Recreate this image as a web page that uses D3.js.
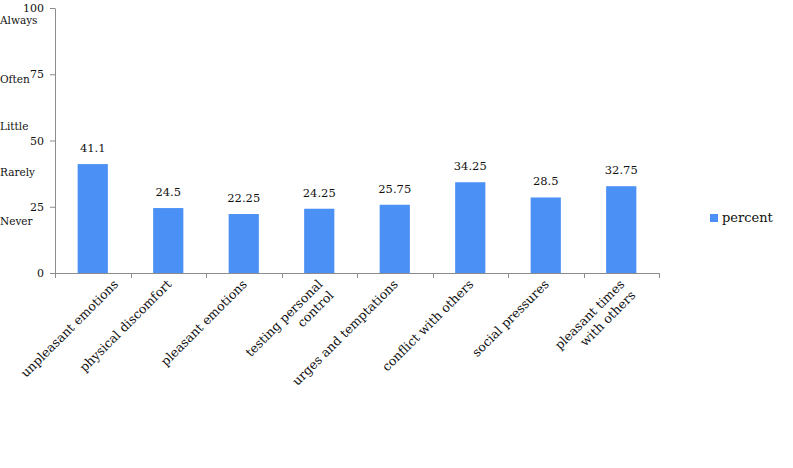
<!DOCTYPE html>
<html>
<head>
<meta charset="utf-8">
<script src="https://cdn.jsdelivr.net/npm/d3@7"></script>
<style>
  body { margin: 0; background: #fff; }
  text { font-family: "DejaVu Serif", serif; fill: #111; }
</style>
</head>
<body>
<div id="chart"></div>
<script>
// data
var categories = [
  "unpleasant emotions", "physical discomfort", "pleasant emotions",
  "testing personal|control", "urges and temptations", "conflict with others",
  "social pressures", "pleasant times|with others"
];
var percent = [41.1, 24.5, 22.25, 24.25, 25.75, 34.25, 28.5, 32.75];
var yTicks = [0, 25, 50, 75, 100];
var levelLabels = ["Always", "Often", "Little", "Rarely", "Never"];
var levelAt = [95.2, 73.2, 55.5, 37.9, 19.4];
var seriesName = "percent";

var W = 793, H = 468;
var x0 = 55, x1 = 659, yBottom = 273, yTop = 8;
var barColor = "#4a90f5", axisColor = "#8c8c8c";

var svg = d3.select("#chart").append("svg")
  .attr("width", W).attr("height", H);

var x = d3.scaleBand().domain(categories).range([x0, x1])
  .paddingInner(0.6).paddingOuter(0.3);
var xTicks = d3.scaleBand().domain(categories).range([x0, x1]).padding(0);
var y = d3.scaleLinear().domain([0, 100]).range([yBottom, yTop]);

// y axis
var yAxis = svg.append("g")
  .attr("transform", "translate(" + x0 + ",0)")
  .call(d3.axisLeft(y).tickValues(yTicks).tickSize(5).tickPadding(6).tickSizeOuter(0));
yAxis.select(".domain").attr("stroke", axisColor);
yAxis.selectAll(".tick line").attr("stroke", axisColor);
yAxis.selectAll(".tick text").attr("font-size", 11).attr("font-family", "DejaVu Serif").attr("fill", "#111");

// level labels at the far left
svg.append("g").selectAll("text")
  .data(levelLabels)
  .enter().append("text")
  .attr("x", 0)
  .attr("y", function (d, i) { return y(levelAt[i]); })
  .attr("dy", "0.35em")
  .attr("font-size", 10.5)
  .text(function (d) { return d; });

// bars
svg.append("g").selectAll("rect")
  .data(percent)
  .enter().append("rect")
  .attr("x", function (d, i) { return x(categories[i]); })
  .attr("y", function (d) { return y(d); })
  .attr("width", x.bandwidth())
  .attr("height", function (d) { return yBottom - y(d); })
  .attr("fill", barColor);

// value labels
svg.append("g").selectAll("text")
  .data(percent)
  .enter().append("text")
  .attr("x", function (d, i) { return x(categories[i]) + x.bandwidth() / 2; })
  .attr("y", function (d) { return y(d) - 12; })
  .attr("text-anchor", "middle")
  .attr("font-size", 11.5)
  .text(function (d) { return d; });

// x axis: ticks at category boundaries
var xAxis = svg.append("g");
xAxis.append("line")
  .attr("x1", x0).attr("x2", x1)
  .attr("y1", yBottom + 0.5).attr("y2", yBottom + 0.5)
  .attr("stroke", axisColor);
xAxis.selectAll(".xt")
  .data(categories.concat(["_end"]))
  .enter().append("line")
  .attr("class", "xt")
  .attr("x1", function (d, i) { return Math.round(x0 + i * xTicks.step()) + 0.5; })
  .attr("x2", function (d, i) { return Math.round(x0 + i * xTicks.step()) + 0.5; })
  .attr("y1", yBottom).attr("y2", yBottom + 5)
  .attr("stroke", axisColor);

// rotated category labels
var labels = svg.append("g").selectAll("g")
  .data(categories)
  .enter().append("g");
var lt = labels.append("text")
  .attr("text-anchor", "end")
  .attr("font-size", 12.5);
lt.selectAll("tspan")
  .data(function (d) { return d.split("|"); })
  .enter().append("tspan")
  .attr("x", 0)
  .attr("dy", function (d, i) { return i === 0 ? 0 : "1.25em"; })
  .text(function (d) { return d; });
labels.attr("transform", function (d, i) {
  var cx = xTicks(d) + xTicks.bandwidth() / 2 + 4;
  var len = d3.select(this).select("text").node().getComputedTextLength();
  // keep the first label inside the chart area
  var startX = cx - len * Math.SQRT1_2;
  if (startX < 26) cx += 26 - startX;
  return "translate(" + cx + "," + (yBottom + 12) + ") rotate(-45)";
});

// legend
var legend = svg.append("g").attr("transform", "translate(710,214)");
legend.append("rect").attr("width", 8).attr("height", 8).attr("fill", barColor);
legend.append("text").attr("x", 12).attr("y", 8).attr("font-size", 13).text(seriesName);
</script>
</body>
</html>
